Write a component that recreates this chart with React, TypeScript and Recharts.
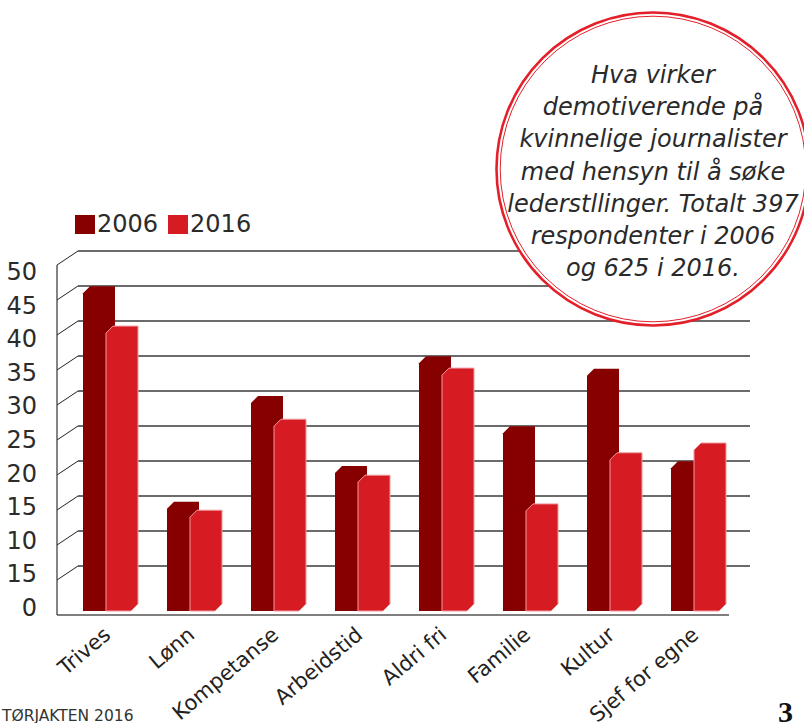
import React from "react";
import {
  BarChart,
  Bar,
  XAxis,
  YAxis,
  CartesianGrid,
  Legend,
} from "recharts";

const categories = [
  "Trives",
  "Lønn",
  "Kompetanse",
  "Arbeidstid",
  "Aldri fri",
  "Familie",
  "Kultur",
  "Sjef for egne",
];
const values2006 = [46.4, 15.6, 30.7, 20.7, 36.4, 26.4, 34.6, 21.4];
const values2016 = [40.7, 14.4, 27.4, 19.4, 34.7, 15.3, 22.6, 24.0];

const yTicks = [0, 5, 10, 15, 20, 25, 30, 35, 40, 45, 50];
// tick labels as printed in the original (including the odd "15" near the bottom)
const yTickLabels = ["0", "15", "10", "15", "20", "25", "30", "35", "40", "45", "50"];

const circleLines = [
  "Hva virker",
  "demotiverende på",
  "kvinnelige journalister",
  "med hensyn til å søke",
  "lederstllinger. Totalt 397",
  "respondenter i 2006",
  "og 625 i 2016.",
];

const data = categories.map((name, i) => ({
  name,
  y2006: values2006[i],
  y2016: values2016[i],
}));

const FONT = "'DejaVu Sans', sans-serif";
const DARK = "#870000";
const RED = "#D71B23";

// depth of the pseudo-3d floor/wall
const FRONT_DX = -11;
const FRONT_DY = 4;
const BACK_DX = 10;
const BACK_DY = -10;

function gridLine(props: any) {
  const { x1, x2, y1, y, height } = props;
  const isBottom = Math.abs(y1 - (y + height)) < 0.5;
  const isTop = Math.abs(y1 - y) < 0.5;
  if (isBottom) {
    return (
      <line
        key={props.key}
        x1={x1 + FRONT_DX}
        y1={y1 + FRONT_DY}
        x2={x2 + FRONT_DX}
        y2={y1 + FRONT_DY}
        stroke="#555"
        strokeWidth={1.6}
      />
    );
  }
  return (
    <g key={props.key}>
      <line
        x1={x1 + FRONT_DX}
        y1={y1 + FRONT_DY}
        x2={x1 + BACK_DX}
        y2={y1 + BACK_DY}
        stroke="#222"
        strokeWidth={1}
      />
      <line
        x1={x1 + BACK_DX}
        y1={y1 + BACK_DY}
        x2={x2 + BACK_DX}
        y2={y1 + BACK_DY}
        stroke="#3a3a3a"
        strokeWidth={1.6}
      />
      {isTop && (
        <line
          x1={x1 + FRONT_DX}
          y1={y1 + FRONT_DY}
          x2={x1 + FRONT_DX}
          y2={y + height + FRONT_DY}
          stroke="#333"
          strokeWidth={1.2}
        />
      )}
    </g>
  );
}

function Bar3D(props: any) {
  const { x, y, width, height, fill, edge } = props;
  if (!height || height <= 0) return null;
  const c = 7;
  const b = y + height;
  const pts = `${x},${y + c} ${x + c},${y} ${x + width},${y} ${x + width},${b - c} ${x + width - c},${b} ${x},${b}`;
  return <polygon points={pts} fill={fill} stroke={edge} strokeWidth={1} />;
}

function YTick(props: any) {
  const { y, payload, index } = props;
  const v = payload.value;
  return (
    <text
      x={37}
      y={y - 3 + v * 0.28}
      textAnchor="end"
      dominantBaseline="central"
      fontFamily={FONT}
      fontSize={24}
      fill="#2b2b2b"
    >
      {yTickLabels[index]}
    </text>
  );
}

function XTick(props: any) {
  const { x, payload } = props;
  return (
    <text
      transform={`translate(${x + 2}, 637) rotate(-40)`}
      textAnchor="end"
      fontFamily={FONT}
      fontSize={21}
      fill="#222"
    >
      {payload.value}
    </text>
  );
}

function LegendContent(props: any) {
  const { payload } = props;
  return (
    <div style={{ display: "flex", alignItems: "center", fontFamily: FONT, fontSize: 24, color: "#2b2b2b", lineHeight: "28px" }}>
      {payload.map((p: any) => (
        <span key={p.value} style={{ display: "flex", alignItems: "center", marginRight: 10 }}>
          <span style={{ display: "inline-block", width: 20, height: 19, background: p.color, marginRight: 2 }} />
          {p.value}
        </span>
      ))}
    </div>
  );
}

export default function App() {
  return (
    <div style={{ position: "absolute", left: 0, top: 0, width: 804, height: 723, background: "#fff" }}>
      <BarChart
        width={804}
        height={723}
        data={data}
        margin={{ top: 261, right: 64, bottom: 72, left: 8 }}
        barSize={32}
        barGap={-9}
      >
        <CartesianGrid vertical={false} horizontal={gridLine} />
        <XAxis
          dataKey="name"
          axisLine={false}
          tickLine={false}
          interval={0}
          height={40}
          tick={<XTick />}
        />
        <YAxis
          domain={[0, 50]}
          ticks={yTicks}
          axisLine={false}
          tickLine={false}
          width={60}
          tick={<YTick />}
        />
        <Legend
          layout="horizontal"
          verticalAlign="middle"
          align="center"
          content={<LegendContent />}
          wrapperStyle={{ position: "absolute", left: 75, top: 210, width: "auto" }}
        />
        <Bar dataKey="y2006" name="2006" fill={DARK} shape={<Bar3D edge="none" />} isAnimationActive={false} />
        <Bar dataKey="y2016" name="2016" fill={RED} shape={<Bar3D edge="#EE9A9E" />} isAnimationActive={false} />
      </BarChart>
      <svg
        width={804}
        height={723}
        style={{ position: "absolute", left: 0, top: 0, pointerEvents: "none" }}
      >
        <circle cx={653} cy={169} r={156.5} fill="#fff" stroke="#E3202A" strokeWidth={2.6} />
        <circle cx={653} cy={169} r={152.8} fill="none" stroke="#E3202A" strokeWidth={1} />
        {circleLines.map((t, i) => (
          <text
            key={t}
            x={653}
            y={75 + i * 32.2}
            textAnchor="middle"
            dominantBaseline="central"
            fontFamily={FONT}
            fontStyle="italic"
            fontSize={24}
            fill="#2a2a2a"
          >
            {t}
          </text>
        ))}
        <text x={2} y={721} fontFamily={FONT} fontSize={15.5} fill="#333">
          TØRJAKTEN 2016
        </text>
        <text x={778} y={722} fontFamily="'Liberation Serif', serif" fontWeight="bold" fontSize={30} fill="#111">
          3
        </text>
      </svg>
    </div>
  );
}
